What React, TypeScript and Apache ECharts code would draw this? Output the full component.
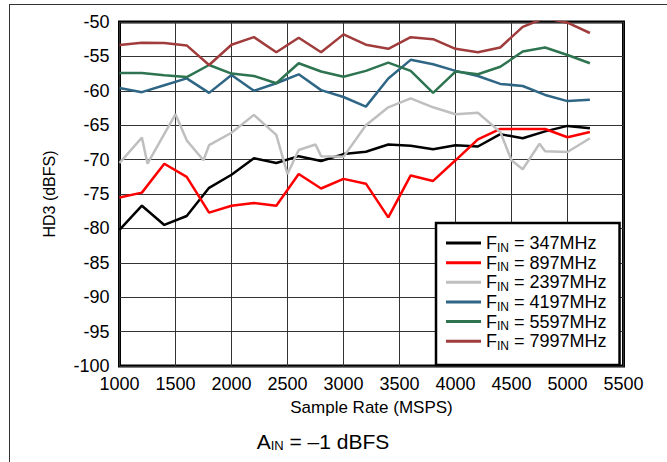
import React, { useEffect, useRef } from "react";
import * as echarts from "echarts";

// ---- data ----
const xTicks = [1000, 1500, 2000, 2500, 3000, 3500, 4000, 4500, 5000, 5500];
const yTicks = [-100, -95, -90, -85, -80, -75, -70, -65, -60, -55, -50];

const sampleRate = [1000, 1200, 1400, 1600, 1800, 2000, 2200, 2400, 2600, 2800, 3000, 3200, 3400, 3600, 3800, 4000, 4200, 4400, 4600, 4800, 5000, 5200];

const hd3_347 = [-80.2, -76.7, -79.5, -78.2, -74.1, -72.2, -69.8, -70.5, -69.5, -70.2, -69.2, -68.85, -67.8, -68.0, -68.5, -67.9, -68.1, -66.3, -66.9, -65.9, -65.1, -65.45];
const hd3_897 = [-75.5, -74.8, -70.6, -72.5, -77.7, -76.7, -76.3, -76.7, -72.1, -74.2, -72.8, -73.5, -78.4, -72.3, -73.1, -70.1, -67.05, -65.55, -65.55, -65.55, -66.75, -66.0];
const sampleRate_2397 = [1000, 1200, 1250, 1500, 1600, 1750, 1800, 2000, 2200, 2400, 2500, 2600, 2750, 2800, 3000, 3200, 3400, 3600, 3800, 4000, 4200, 4400, 4500, 4600, 4750, 4800, 5000, 5200];
const hd3_2397 = [-70.5, -66.8, -70.6, -63.4, -67.2, -70.1, -67.9, -66.1, -63.5, -66.4, -72.1, -68.6, -67.8, -69.5, -69.6, -65.0, -62.4, -61.1, -62.4, -63.4, -63.2, -66.0, -70.1, -71.4, -67.7, -68.8, -68.9, -66.9];
const hd3_4197 = [-59.6, -60.2, -59.2, -58.2, -60.3, -57.7, -60.0, -58.9, -57.6, -59.9, -60.9, -62.3, -58.2, -55.5, -56.15, -57.1, -57.85, -59.0, -59.3, -60.6, -61.5, -61.3];
const hd3_5597 = [-57.4, -57.4, -57.75, -58.0, -56.25, -57.5, -57.85, -58.9, -56.0, -57.2, -57.95, -57.1, -55.9, -57.1, -60.3, -57.2, -57.6, -56.5, -54.3, -53.7, -54.8, -56.0];
const hd3_7997 = [-53.35, -53.0, -53.05, -53.4, -56.25, -53.3, -52.2, -54.4, -52.3, -54.4, -51.8, -53.3, -53.9, -52.2, -52.5, -53.9, -54.4, -53.7, -50.7, -49.4, -50.1, -51.6];

const seriesNames = ["FIN = 347MHz", "FIN = 897MHz", "FIN = 2397MHz", "FIN = 4197MHz", "FIN = 5597MHz", "FIN = 7997MHz"];
const seriesX = [sampleRate, sampleRate, sampleRate_2397, sampleRate, sampleRate, sampleRate];
const seriesY = [hd3_347, hd3_897, hd3_2397, hd3_4197, hd3_5597, hd3_7997];
const seriesColors = ["#000000", "#ff0000", "#bfbfbf", "#2f6685", "#2e7450", "#a03c3c"];

const FONT = "'Liberation Sans', Arial, Helvetica, sans-serif";

export default function App() {
  const ref = useRef<HTMLDivElement>(null);
  useEffect(() => {
    if (!ref.current) return;
    const chart = echarts.init(ref.current, undefined, { renderer: "svg" });
    const series = seriesNames.map((name, i) => ({
      name,
      type: "line",
      data: seriesX[i].map((x, j) => [x, seriesY[i][j]]),
      showSymbol: false,
      symbol: "none",
      color: seriesColors[i],
      lineStyle: { color: seriesColors[i], width: 2.5 },
      clip: true,
      z: 3,
    }));
    chart.setOption({
      animation: false,
      textStyle: { fontFamily: FONT },
      grid: {
        left: 119.5,
        right: 43.5,
        top: 22,
        bottom: 96,
        show: true,
        borderColor: "#000",
        borderWidth: 3,
        backgroundColor: "#fff",
      },
      xAxis: {
        type: "value",
        min: xTicks[0],
        max: xTicks[xTicks.length - 1],
        interval: xTicks[1] - xTicks[0],
        name: "Sample Rate (MSPS)",
        nameLocation: "middle",
        nameGap: 33,
        nameTextStyle: { fontSize: 17, color: "#000", fontFamily: FONT },
        axisLine: { show: false },
        axisTick: { show: false },
        axisLabel: { fontSize: 18, color: "#000", margin: 9, fontFamily: FONT, formatter: (v: number) => String(v) },
        splitLine: { show: true, lineStyle: { color: "#333", width: 1 } },
      },
      yAxis: {
        type: "value",
        min: yTicks[0],
        max: yTicks[yTicks.length - 1],
        interval: yTicks[1] - yTicks[0],
        name: "HD3 (dBFS)",
        nameLocation: "middle",
        nameRotate: 90,
        nameGap: 62,
        nameTextStyle: { fontSize: 16, color: "#000", fontFamily: FONT },
        axisLine: { show: false },
        axisTick: { show: false },
        axisLabel: { fontSize: 18, color: "#000", margin: 10, fontFamily: FONT, formatter: (v: number) => String(v) },
        splitLine: { show: true, lineStyle: { color: "#333", width: 1 } },
      },
      legend: {
        orient: "vertical",
        left: 436,
        top: 223,
        data: seriesNames,
        icon: "rect",
        itemWidth: 35,
        itemHeight: 3,
        itemGap: 0,
        itemTextGap: 11,
        padding: [11, 13, 13, 10],
        backgroundColor: "#fff",
        borderColor: "#000",
        borderWidth: 2.5,
        selectedMode: false,
        z: 10,
        formatter: (name: string) => `{f|F}{s|IN}{f|${name.slice(3)}}`,
        textStyle: {
          fontFamily: FONT,
          color: "#000",
          rich: {
            f: { fontSize: 18, lineHeight: 21.3, fontFamily: FONT, color: "#000" },
            s: { fontSize: 12, lineHeight: 10, verticalAlign: "bottom", fontFamily: FONT, color: "#000" },
          },
        },
      },
      graphic: [
        { type: "line", shape: { x1: 9, y1: 4.5, x2: 667, y2: 4.5 }, style: { stroke: "#333", lineWidth: 1 }, silent: true },
        { type: "line", shape: { x1: 9.5, y1: 4, x2: 9.5, y2: 462 }, style: { stroke: "#333", lineWidth: 1 }, silent: true },
        {
          type: "text",
          x: 323,
          y: 441,
          silent: true,
          style: {
            text: "{a|A}{s|IN}{a| = \u20131 dBFS}",
            align: "center",
            verticalAlign: "middle",
            fill: "#000",
            rich: {
              a: { fontSize: 21, lineHeight: 22, fontFamily: FONT, fill: "#000" },
              s: { fontSize: 13, lineHeight: 11, verticalAlign: "bottom", fontFamily: FONT, fill: "#000" },
            },
          },
        },
      ],
      series,
    });
    return () => chart.dispose();
  }, []);
  return <div ref={ref} style={{ position: "fixed", left: 0, top: 0, width: 667, height: 462, background: "#fff" }} />;
}
